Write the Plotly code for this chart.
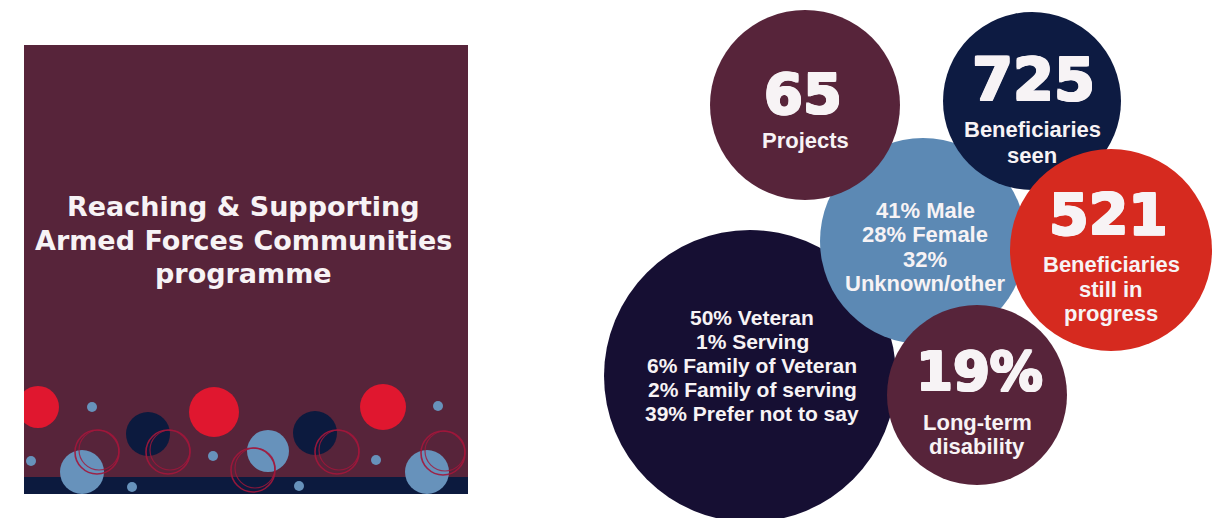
import plotly.graph_objects as go

# ---- figures shown in the infographic ----
projects = 65
beneficiaries_seen = 725
beneficiaries_in_progress = 521
long_term_disability_pct = 19

gender_pct = [41, 28, 32]
gender_labels = ["Male", "Female", "Unknown/other"]

status_pct = [50, 1, 6, 2, 39]
status_labels = ["Veteran", "Serving", "Family of Veteran", "Family of serving", "Prefer not to say"]

title_lines = ["Reaching & Supporting", "Armed Forces Communities", "programme"]

# ---- palette ----
MAROON = "#57243a"
NAVY = "#0d1b42"
DARK = "#160f33"
BLUE = "#5c89b4"
RED = "#d62a1f"
DECO_RED = "#e0172f"
DECO_NAVY = "#0c1a3e"
DECO_BLUE = "#6792bb"
RING = "#a3173b"
WHITE = "#f7f3f5"

NUM_FONT = "DejaVu Sans"
LABEL_FONT = "Liberation Sans"
# thin outline in the text colour makes the headline figures extra heavy
HEAVY = ", ".join(f"{dx}px {dy}px 0 {WHITE}" for dx, dy in
                  [(1, 0), (-1, 0), (0, 1), (0, -1), (1, 1), (-1, -1), (1, -1), (-1, 1)])

W, H = 1216, 518
fig = go.Figure()
shapes = []
annotations = []


def circle(cx, cy, r, fill, line_color=None, line_width=0, opacity=1.0):
    shapes.append(dict(
        type="circle", xref="x", yref="y",
        x0=cx - r, x1=cx + r, y0=cy - r, y1=cy + r,
        fillcolor=fill, opacity=opacity,
        line=dict(color=line_color or "rgba(0,0,0,0)", width=line_width),
    ))


def text(x, y, s, size, weight=700, family=LABEL_FONT, color=WHITE, shadow="none"):
    annotations.append(dict(
        x=x, y=y, xref="x", yref="y", text=s, showarrow=False,
        xanchor="center", yanchor="middle",
        font=dict(family=family, size=size, color=color, weight=weight, shadow=shadow),
    ))


# ---- left panel ----
PX0, PX1, PY0, PY1 = 24, 468, 45, 494
shapes.append(dict(type="rect", xref="x", yref="y", x0=PX0, x1=PX1, y0=PY0, y1=PY1,
                   fillcolor=MAROON, line=dict(width=0), layer="below"))
shapes.append(dict(type="rect", xref="x", yref="y", x0=PX0, x1=PX1, y0=477, y1=PY1,
                   fillcolor=DECO_NAVY, line=dict(width=0)))

# decorative dots along the bottom of the panel
for cx, cy, r in [(38, 407, 21), (214, 412, 25), (383, 407, 23)]:
    circle(cx, cy, r, DECO_RED)
for cx, cy, r in [(148, 434, 22), (315, 433, 22)]:
    circle(cx, cy, r, DECO_NAVY)
for cx, cy, r in [(268, 451, 21), (82, 472, 22), (427, 472, 22)]:
    circle(cx, cy, r, DECO_BLUE)
for cx, cy in [(92, 407), (438, 406), (31, 461), (213, 456), (376, 460), (132, 487), (299, 486)]:
    circle(cx, cy, 5, DECO_BLUE)
for cx, cy in [(97, 452), (168, 452), (253, 470), (337, 452), (443, 453)]:
    circle(cx, cy, 22, "rgba(0,0,0,0)", RING, 1.6, 0.9)
    circle(cx + 2, cy - 2, 20, "rgba(0,0,0,0)", RING, 1.2, 0.8)
# trim anything spilling past the panel's edges
for x0, x1, y0, y1 in [(0, PX0, 0, H), (PX1, PX1 + 20, PY0, PY1 + 10), (0, PX1 + 20, PY1, H)]:
    shapes.append(dict(type="rect", xref="x", yref="y", x0=x0, x1=x1, y0=y0, y1=y1,
                       fillcolor="white", line=dict(width=0)))

for line, y in zip(title_lines, [206, 240, 273]):
    text(243, y, line, 27, 700, NUM_FONT)

# ---- bubbles (drawn back to front) ----
bubbles = {
    "status": (750, 376, 146, DARK),
    "gender": (923, 241, 103, BLUE),
    "projects": (805, 105, 95, MAROON),
    "seen": (1032, 101, 89, NAVY),
    "progress": (1111, 250, 101, RED),
    "disability": (977, 395, 90, MAROON),
}
for cx, cy, r, col in bubbles.values():
    circle(cx, cy, r, col)

# headline numbers
cx, cy, _, _ = bubbles["projects"]
text(cx - 2, 93, f"{projects}", 56, 700, NUM_FONT, shadow=HEAVY)
text(cx, 140, "Projects", 22)

cx, cy, _, _ = bubbles["seen"]
text(cx + 1, 79, f"{beneficiaries_seen}", 59, 700, NUM_FONT, shadow=HEAVY)
text(cx, 129, "Beneficiaries", 22)
text(cx, 155, "seen", 22)

cx, cy, _, _ = bubbles["progress"]
text(cx - 3, 215, f"{beneficiaries_in_progress}", 57, 700, NUM_FONT, shadow=HEAVY)
text(cx, 264, "Beneficiaries", 22)
text(cx, 289, "still in", 22)
text(cx, 313, "progress", 22)

cx, cy, _, _ = bubbles["disability"]
text(cx + 2, 371, f"{long_term_disability_pct}%", 53, 700, NUM_FONT, shadow=HEAVY)
text(cx, 422, "Long-term", 22)
text(cx, 446, "disability", 22)

# gender breakdown
gender_lines = [f"{gender_pct[0]}% {gender_labels[0]}",
                f"{gender_pct[1]}% {gender_labels[1]}",
                f"{gender_pct[2]}%",
                gender_labels[2]]
for i, line in enumerate(gender_lines):
    text(925, 210 + i * 24.6, line, 22, 700)

# service status breakdown
for i, (p, lab) in enumerate(zip(status_pct, status_labels)):
    text(752, 317 + i * 24.2, f"{p}% {lab}", 21, 700)

fig.update_layout(
    width=W, height=H,
    margin=dict(l=0, r=0, t=0, b=0),
    paper_bgcolor="white", plot_bgcolor="white",
    xaxis=dict(range=[0, W], visible=False, fixedrange=True),
    yaxis=dict(range=[H, 0], visible=False, fixedrange=True),
    shapes=shapes, annotations=annotations,
    showlegend=False,
)
fig.write_html("out.html")
